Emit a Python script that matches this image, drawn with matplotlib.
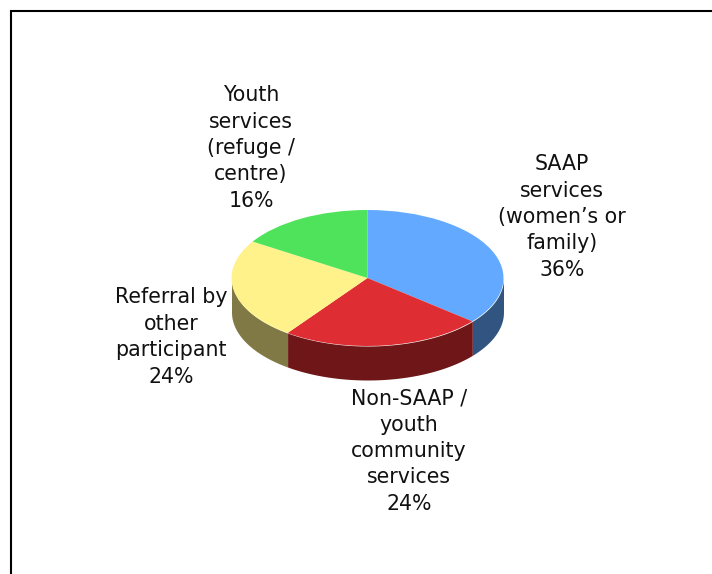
import numpy as np
import matplotlib
matplotlib.use('Agg')
import matplotlib.pyplot as plt
from matplotlib.transforms import Affine2D

W, H = 712, 574

# clockwise from 12 o'clock
labels = ['SAAP\nservices\n(women\u2019s or\nfamily)\n36%',
          'Non-SAAP /\nyouth\ncommunity\nservices\n24%',
          'Referral by\nother\nparticipant\n24%',
          'Youth\nservices\n(refuge /\ncentre)\n16%']
values = [36, 24, 24, 16]
top_colors = ['#63A9FF', '#DE2D33', '#FFF28A', '#4EE35A']
side_colors = ['#315580', '#6F1618', '#807945', '#27722D']
label_pos = [(562, 217), (409, 451), (171, 337), (251, 148)]

cx, cy = 367.5, H - 278
rx, ry = 136, 68
depth = 34

fig = plt.figure(figsize=(W / 100, H / 100), dpi=100)
ax = fig.add_axes([0, 0, 1, 1])

# top face: ordinary pie squashed into an ellipse
wedges, _ = ax.pie(values, colors=top_colors, startangle=90, counterclock=False,
                   center=(cx, cy), radius=rx)
squash = Affine2D().translate(-cx, -cy).scale(1, ry / rx).translate(cx, cy)
for w in wedges:
    w.set_transform(squash + ax.transData)
    w.set_zorder(3)

# side wall, only the part of each slice facing front
edges = np.cumsum([0] + values) / sum(values) * 2 * np.pi
for i in range(len(values)):
    t0, t1 = max(edges[i], np.pi / 2), min(edges[i + 1], 3 * np.pi / 2)
    if t1 <= t0:
        continue
    t = np.linspace(t0, t1, 80)
    x = cx + rx * np.sin(t)
    y = cy + ry * np.cos(t)
    ax.fill_between(x, y - depth, y, color=side_colors[i], lw=0, zorder=2)

for txt, (px, py) in zip(labels, label_pos):
    ax.text(px, H - py, txt, ha='center', va='center', fontsize=14.8,
            family='DejaVu Sans', color='#111111', linespacing=1.40, zorder=4)

# frame: only top and left lines are visible
ax.plot([11, W], [H - 11, H - 11], color='black', lw=1.5, zorder=5, solid_capstyle='projecting')
ax.plot([11, 11], [0, H - 11], color='black', lw=1.5, zorder=5, solid_capstyle='butt')

ax.set_aspect('auto')
ax.set_xlim(0, W)
ax.set_ylim(0, H)
ax.axis('off')
fig.savefig('out.png', dpi=100)
